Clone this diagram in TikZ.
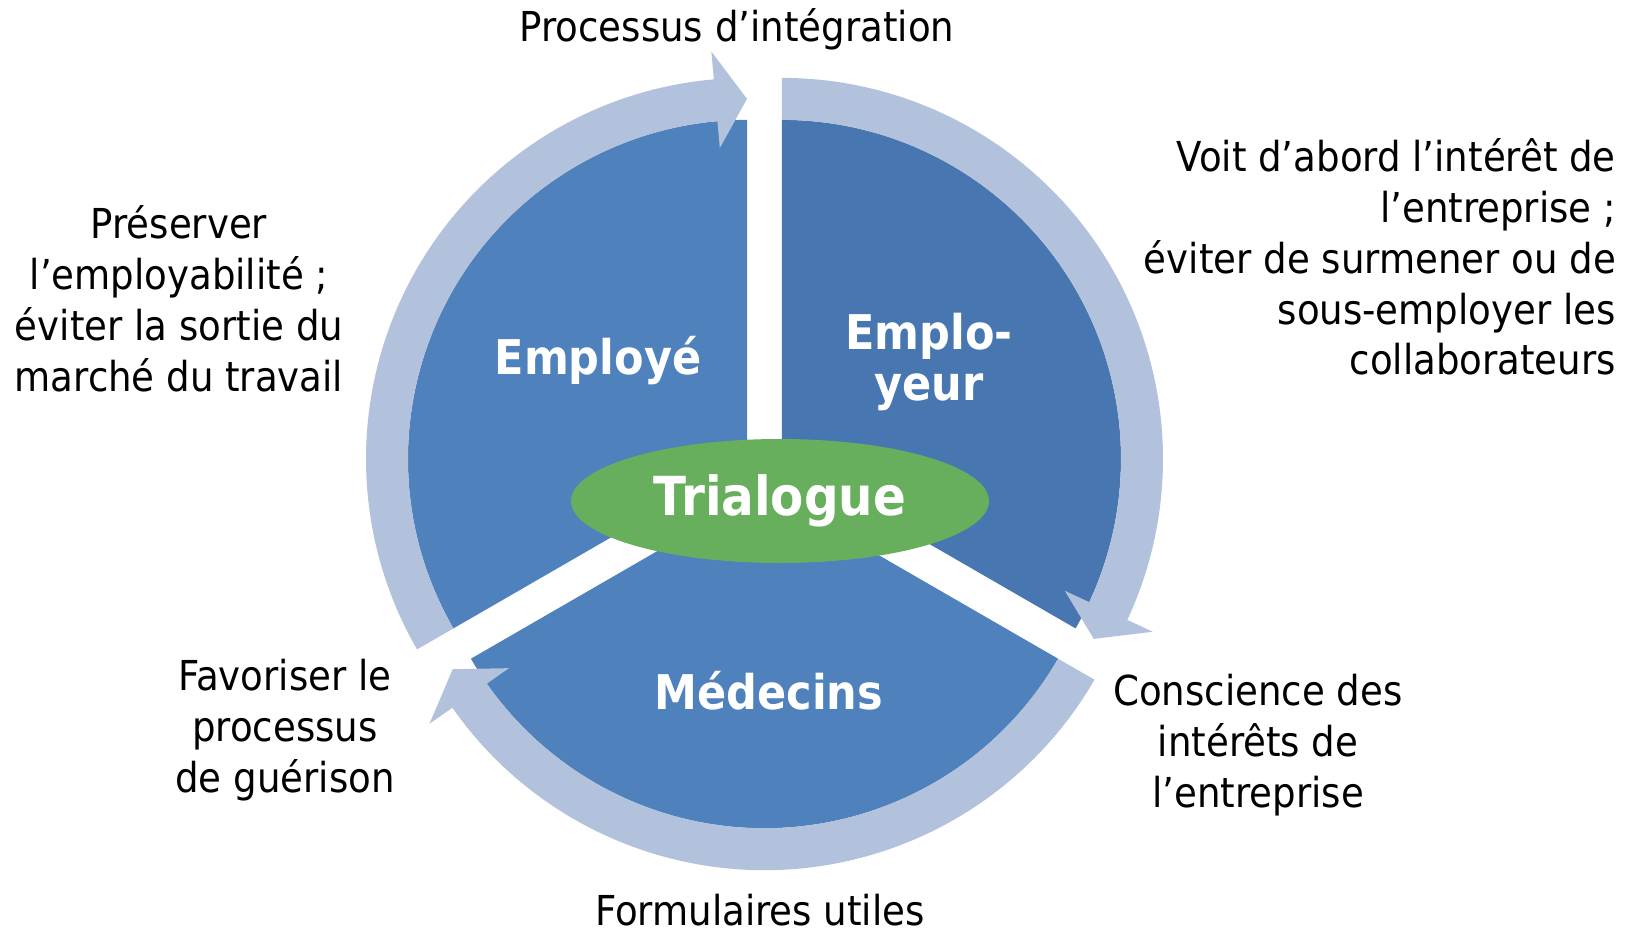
\documentclass[tikz,border=0pt]{standalone}
\usepackage{fontspec}
\setmainfont{DejaVu Sans Condensed}
\usetikzlibrary{calc}
\usetikzlibrary{shapes.geometric}

\definecolor{sectblue}{HTML}{4F81BD}
\definecolor{sectdark}{HTML}{4876B0}
\definecolor{bandblue}{HTML}{B3C2DC}
\definecolor{triagreen}{HTML}{67AE5D}

\tikzset{
  outtext/.style={font=\fontsize{41.4}{51}\selectfont, align=center, inner sep=0pt},
  intext/.style={font=\bfseries\fontsize{48}{51}\selectfont, text=white, align=center, inner sep=0pt},
}

\begin{document}
\begin{tikzpicture}[x=1bp,y=1bp]
\useasboundingbox (-764.5,-460) rectangle (872.5,469);

\foreach \b/\c in {150/sectblue, 30/sectdark, 270/sectblue}
\fill[\c, shift={(\b:20.2)}] (0,0) -- ({\b+60}:339) arc[start angle=\b+60, end angle=\b-60, radius=339] -- cycle;

\foreach \b in {150, 30, 270}
\fill[bandblue, shift={(\b:20.2)}] ({\b+60}:339) arc[start angle=\b+60, end angle=\b-55, radius=339]
  -- ({\b-55}:312) -- ({\b-60}:360) -- ({\b-55}:409) -- ({\b-55}:381)
  arc[start angle=\b-55, end angle=\b+60, radius=381] -- cycle;

\node[ellipse, fill=triagreen, minimum width=418bp, minimum height=124bp, inner sep=0pt, text=white, font=\bfseries\fontsize{54}{60}\selectfont] (trialogue) at (15.5,-32) {Trialogue};

\node[intext] (employe) at (-166.5,108) {Employé};
\node[intext] (employeur) at (164.5,107) {Emplo-\\yeur};
\node[intext] (medecins) at (4.5,-222) {Médecins};

\node[outtext] (integration) at (-27.5,440) {Processus d’intégration};
\node[outtext] (preserver) at (-585.5,170) {Préserver\\l’employabilité ;\\éviter la sortie du\\marché du travail};
\node[outtext, align=right, anchor=east] (abord) at (851.5,212) {Voit d’abord l’intérêt de\\l’entreprise ;\\éviter de surmener ou de\\sous-employer les\\collaborateurs};
\node[outtext] (guerison) at (-479.5,-261) {Favoriser le\\processus\\de guérison};
\node[outtext] (conscience) at (493.5,-276) {Conscience des\\intérêts de\\l’entreprise};
\node[outtext, anchor=base] (formulaires) at (-4.5,-456) {Formulaires utiles};

\end{tikzpicture}
\end{document}
